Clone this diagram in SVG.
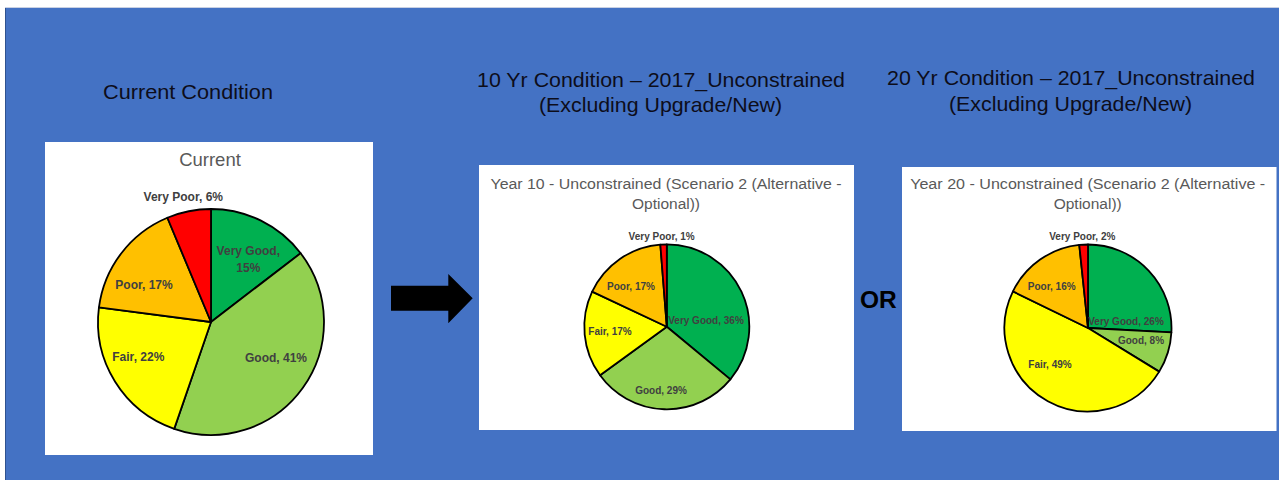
<svg xmlns="http://www.w3.org/2000/svg" width="1279" height="480" viewBox="0 0 1279 480">
  <style>
    .hdr { font-family: "Liberation Sans", Arial, sans-serif; font-size: 21px; fill: #0d0d1a; text-anchor: middle; }
    .ttl { font-family: "Liberation Sans", Arial, sans-serif; fill: #595959; text-anchor: middle; }
    .lbl1 { font-family: "Liberation Sans", Arial, sans-serif; font-size: 12px; font-weight: bold; fill: #404040; text-anchor: middle; }
    .lbl2 { font-family: "Liberation Sans", Arial, sans-serif; font-size: 10px; font-weight: bold; fill: #404040; text-anchor: middle; }
    .panel { fill: #ffffff; }
    .sl { stroke: #000000; stroke-width: 1.8; stroke-linejoin: round; }
    .vg { fill: #00B050; }
    .gd { fill: #92D050; }
    .fr { fill: #FFFF00; }
    .pr { fill: #FFC000; }
    .vp { fill: #FF0000; }
  </style>
  <rect x="0" y="0" width="1279" height="480" fill="#ffffff"/>
  <rect x="5" y="8" width="1274" height="472" fill="#4472C4"/>
  <line x1="5" y1="7.5" x2="1279" y2="7.5" stroke="#c9d1e3" stroke-width="1"/>
  <line x1="5.5" y1="8" x2="5.5" y2="480" stroke="#2f528f" stroke-width="1"/>

  <g id="header-current">
    <text class="hdr" x="188" y="99" textLength="170" lengthAdjust="spacingAndGlyphs">Current Condition</text>
  </g>
  <g id="header-10yr">
    <text class="hdr" x="661" y="86.5" textLength="368" lengthAdjust="spacingAndGlyphs">10 Yr Condition – 2017_Unconstrained</text>
    <text class="hdr" x="660.5" y="112" textLength="243" lengthAdjust="spacingAndGlyphs">(Excluding Upgrade/New)</text>
  </g>
  <g id="header-20yr">
    <text class="hdr" x="1071" y="84.5" textLength="368" lengthAdjust="spacingAndGlyphs">20 Yr Condition – 2017_Unconstrained</text>
    <text class="hdr" x="1070.5" y="110.5" textLength="243" lengthAdjust="spacingAndGlyphs">(Excluding Upgrade/New)</text>
  </g>

  <g id="chart-current">
    <rect class="panel" x="45" y="142" width="328" height="313"/>
    <text class="ttl" x="210" y="166" font-size="18.5">Current</text>
    <path class="sl vg" d="M211,322 L211,209 A113,113 0 0 1 300.65,253.21 Z"/>
    <path class="sl gd" d="M211,322 L300.65,253.21 A113,113 0 0 1 174.21,428.84 Z"/>
    <path class="sl fr" d="M211,322 L174.21,428.84 A113,113 0 0 1 98.94,307.45 Z"/>
    <path class="sl pr" d="M211,322 L98.94,307.45 A113,113 0 0 1 167.39,217.75 Z"/>
    <path class="sl vp" d="M211,322 L167.39,217.75 A113,113 0 0 1 211,209 Z"/>
    <text class="lbl1" x="183.3" y="201">Very Poor, 6%</text>
    <text class="lbl1" x="248.3" y="255.2">Very Good,</text>
    <text class="lbl1" x="248.3" y="271.5">15%</text>
    <text class="lbl1" x="144" y="289.2">Poor, 17%</text>
    <text class="lbl1" x="138.3" y="361">Fair, 22%</text>
    <text class="lbl1" x="276" y="361.5">Good, 41%</text>
  </g>

  <g id="chart-year10">
    <rect class="panel" x="479" y="165" width="375" height="265"/>
    <text class="ttl" x="666" y="189.3" font-size="15.5" textLength="351" lengthAdjust="spacingAndGlyphs">Year 10 - Unconstrained (Scenario 2 (Alternative -</text>
    <text class="ttl" x="666" y="209.3" font-size="15.5">Optional))</text>
    <path class="sl vg" d="M666.8,326.8 L666.8,244.3 A82.5,82.5 0 0 1 730.37,379.39 Z"/>
    <path class="sl gd" d="M666.8,326.8 L730.37,379.39 A82.5,82.5 0 0 1 600.06,375.29 Z"/>
    <path class="sl fr" d="M666.8,326.8 L600.06,375.29 A82.5,82.5 0 0 1 592.15,291.67 Z"/>
    <path class="sl pr" d="M666.8,326.8 L592.15,291.67 A82.5,82.5 0 0 1 660.33,244.55 Z"/>
    <path class="sl vp" d="M666.8,326.8 L660.33,244.55 A82.5,82.5 0 0 1 666.8,244.3 Z"/>
    <text class="lbl2" x="661.7" y="239.5">Very Poor, 1%</text>
    <text class="lbl2" x="631" y="289.5">Poor, 17%</text>
    <text class="lbl2" x="610" y="334.5">Fair, 17%</text>
    <text class="lbl2" x="706" y="324.2">Very Good, 36%</text>
    <text class="lbl2" x="661" y="393.5">Good, 29%</text>
  </g>

  <g id="chart-year20">
    <rect class="panel" x="902" y="167" width="374.5" height="264"/>
    <text class="ttl" x="1087.7" y="188.5" font-size="15.5" textLength="355" lengthAdjust="spacingAndGlyphs">Year 20 - Unconstrained (Scenario 2 (Alternative -</text>
    <text class="ttl" x="1087.7" y="209" font-size="15.5">Optional))</text>
    <path class="sl vg" d="M1088,328 L1088,244.5 A83.5,83.5 0 0 1 1171.39,332.37 Z"/>
    <path class="sl gd" d="M1088,328 L1171.39,332.37 A83.5,83.5 0 0 1 1159.2,371.63 Z"/>
    <path class="sl fr" d="M1088,328 L1159.2,371.63 A83.5,83.5 0 0 1 1012.95,291.4 Z"/>
    <path class="sl pr" d="M1088,328 L1012.95,291.4 A83.5,83.5 0 0 1 1079.27,244.96 Z"/>
    <path class="sl vp" d="M1088,328 L1079.27,244.96 A83.5,83.5 0 0 1 1088,244.5 Z"/>
    <text class="lbl2" x="1082.3" y="239.5">Very Poor, 2%</text>
    <text class="lbl2" x="1051.7" y="289.5">Poor, 16%</text>
    <text class="lbl2" x="1126" y="324.5">Very Good, 26%</text>
    <text class="lbl2" x="1141" y="343.8">Good, 8%</text>
    <text class="lbl2" x="1050" y="368.2">Fair, 49%</text>
  </g>

  <g id="or-label">
    <text x="878.3" y="308.3" font-family="'Liberation Sans', Arial, sans-serif" font-size="24.5" font-weight="bold" fill="#000000" text-anchor="middle">OR</text>
  </g>

  <g id="connectors">
    <path d="M391,285.7 L448.3,285.7 L448.3,274 L472.7,298.3 L448.3,323.3 L448.3,310.7 L391,310.7 Z" fill="#000000"/>
  </g>
</svg>
